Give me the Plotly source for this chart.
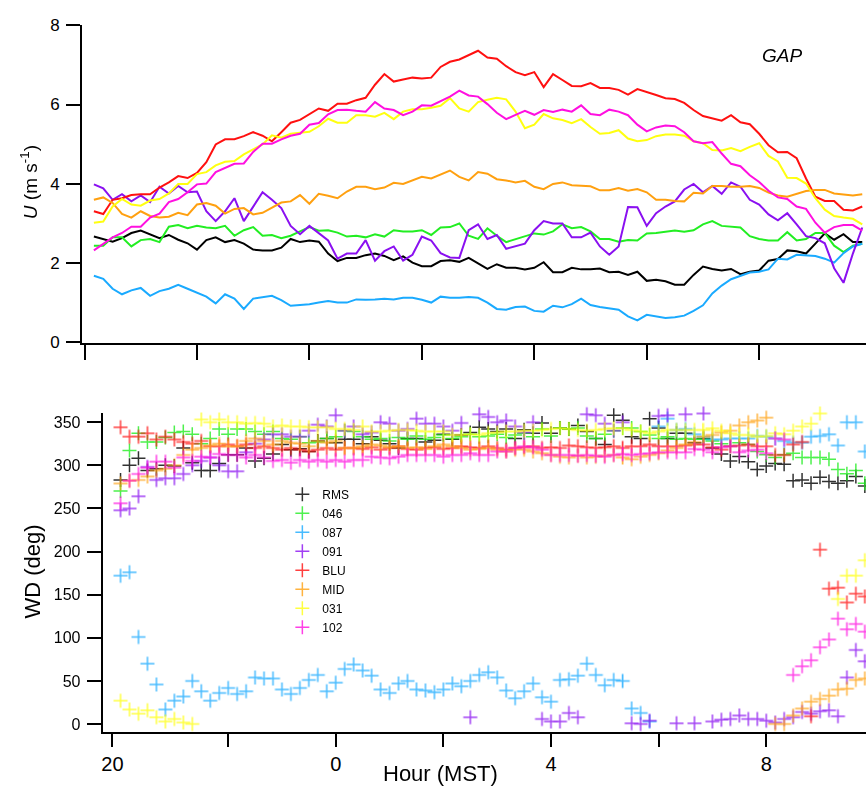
import numpy as np
import plotly.graph_objects as go

# ---------------- data ----------------
# top panel: wind speed U (m/s), 10-min samples starting 20:10 MST
top_start_min = 10          # minutes after 20:00
step_min = 10
# bottom panel: wind direction (deg), 10-min samples starting 20:00 MST
bot_start_min = 0

stations = ["RMS", "046", "087", "091", "BLU", "MID", "031", "102"]
colors = ["#000000", "#22ee22", "#1aaaff", "#8a10f0", "#ff1010", "#ffa010", "#ffff10", "#ff10e0"]

U_RMS = [2.66,2.60,2.53,2.62,2.75,2.81,2.72,2.62,2.70,2.58,2.49,2.33,2.57,2.64,2.52,2.57,2.48,2.33,2.31,2.31,
         2.38,2.60,2.52,2.56,2.53,2.23,2.04,2.12,2.12,2.19,2.23,2.17,2.06,2.16,2.00,1.91,1.91,2.04,2.06,2.02,
         2.12,1.98,1.84,1.96,1.87,1.87,1.83,1.87,2.01,1.76,1.76,1.87,1.83,1.83,1.85,1.76,1.77,1.69,1.77,1.54,
         1.57,1.53,1.44,1.44,1.69,1.90,1.84,1.80,1.84,1.71,1.77,1.80,2.05,2.09,2.31,2.29,2.23,2.48,2.74,2.58,
         2.72,2.52,2.52]
U_046 = [2.43,2.43,2.64,2.64,2.41,2.57,2.60,2.52,2.91,2.95,2.87,2.93,2.89,2.87,2.93,2.68,2.82,2.90,2.68,2.70,
         2.62,2.68,2.79,2.90,2.81,2.82,2.76,2.66,2.68,2.64,2.72,2.66,2.82,2.79,2.79,2.82,2.70,2.89,2.90,2.99,
         2.68,2.60,2.87,2.68,2.52,2.60,2.68,2.74,2.71,2.79,2.97,2.87,2.90,2.79,2.60,2.60,2.53,2.57,2.56,2.74,
         2.75,2.78,2.81,2.78,2.82,2.97,3.05,2.93,2.91,2.89,2.67,2.60,2.56,2.56,2.77,2.56,2.60,2.75,2.75,2.43,
         2.27,2.43,2.48]
U_087 = [1.67,1.59,1.34,1.20,1.30,1.36,1.16,1.28,1.34,1.44,1.34,1.24,1.14,0.97,1.20,1.09,0.83,1.09,1.13,1.16,
         1.05,0.91,0.93,0.95,0.99,1.03,0.99,0.99,1.07,1.06,1.07,1.09,1.07,1.11,1.11,1.06,0.99,1.14,1.11,1.11,
         1.13,1.11,0.99,0.83,0.81,0.88,0.89,0.78,0.76,0.91,0.87,0.95,1.09,0.93,0.88,0.84,0.81,0.64,0.54,0.68,
         0.64,0.60,0.62,0.66,0.78,0.92,1.22,1.42,1.58,1.67,1.75,1.77,1.83,2.10,2.08,2.20,2.18,2.17,2.10,2.00,
         2.24,2.41,2.48]
U_091 = [3.98,3.88,3.59,3.73,3.55,3.70,3.53,3.92,3.75,3.94,3.78,3.80,3.30,3.05,3.30,3.63,3.05,3.42,3.78,3.59,
         3.38,2.93,2.72,2.93,2.74,2.56,2.10,2.23,2.23,2.57,2.05,2.29,2.41,2.05,2.20,2.66,2.56,2.24,2.13,2.12,
         2.82,2.97,2.60,2.70,2.35,2.41,2.48,2.82,3.05,2.99,2.99,2.64,2.64,2.76,2.41,2.20,2.41,3.41,3.40,2.93,
         3.25,3.42,3.55,3.85,3.99,3.78,3.94,3.74,4.03,3.92,3.59,3.47,3.22,3.07,3.25,2.97,2.67,2.62,2.49,1.86,
         1.49,2.23,2.89]
U_BLU = [3.30,3.23,3.59,3.63,3.71,3.73,3.73,3.90,4.03,4.19,4.14,4.27,4.54,4.99,5.12,5.12,5.20,5.30,5.21,5.07,
         5.30,5.54,5.61,5.76,5.90,5.84,6.02,6.02,6.11,6.17,6.50,6.77,6.58,6.63,6.68,6.66,6.68,6.95,7.08,7.14,
         7.24,7.36,7.19,7.16,6.97,6.82,6.74,6.82,6.44,6.77,6.62,6.47,6.46,6.54,6.42,6.42,6.37,6.25,6.39,6.32,
         6.24,6.16,6.14,6.04,5.86,5.71,5.64,5.59,5.73,5.55,5.50,5.26,4.97,4.79,4.80,4.64,4.13,3.67,3.56,3.56,
         3.34,3.32,3.42]
U_MID = [3.59,3.65,3.51,3.23,3.14,3.30,3.18,3.14,3.16,3.26,3.20,3.47,3.51,3.44,3.24,3.36,3.38,3.22,3.26,3.40,
         3.52,3.55,3.71,3.49,3.74,3.69,3.63,3.80,3.92,3.92,3.86,3.90,4.02,3.99,4.07,4.17,4.13,4.22,4.33,4.17,
         4.08,4.29,4.25,4.11,4.08,4.03,4.07,3.92,3.86,3.99,4.03,3.96,3.95,3.93,3.83,3.83,3.89,3.82,3.86,3.78,
         3.59,3.59,3.56,3.55,3.77,3.75,3.94,3.94,3.92,3.92,3.94,3.89,3.77,3.70,3.67,3.75,3.81,3.84,3.84,3.75,
         3.73,3.70,3.73]
U_031 = [3.01,3.04,3.42,3.61,3.47,3.44,3.57,3.61,3.75,3.99,3.99,4.24,4.29,4.46,4.55,4.57,4.74,4.87,4.99,5.22,
         5.16,5.26,5.28,5.31,5.45,5.64,5.54,5.54,5.73,5.73,5.69,5.79,5.63,5.82,5.88,5.88,5.92,5.97,6.16,5.90,
         5.82,6.06,6.12,6.17,6.13,5.82,5.40,5.49,5.76,5.65,5.61,5.53,5.63,5.43,5.26,5.28,5.35,5.14,5.07,5.10,
         5.20,5.24,5.24,5.21,5.07,5.02,4.85,4.84,4.90,4.82,4.93,5.02,4.70,4.56,4.15,4.14,4.00,3.63,3.34,3.18,
         3.14,3.11,2.97]
U_102 = [2.31,2.48,2.64,2.75,2.91,2.91,3.14,3.24,3.53,3.61,3.78,3.98,4.00,4.29,4.40,4.50,4.51,4.80,5.01,5.01,
         5.12,5.21,5.26,5.49,5.53,5.75,5.86,5.87,5.84,5.82,6.06,5.90,5.86,5.73,5.82,5.98,5.97,6.09,6.20,6.35,
         6.23,6.20,6.01,5.79,5.63,5.74,5.84,5.74,5.86,5.81,5.87,5.82,5.98,5.76,5.73,5.87,5.82,5.73,5.49,5.32,
         5.42,5.47,5.45,5.30,5.07,5.02,5.05,4.76,4.50,4.44,4.21,4.04,3.82,3.65,3.61,3.42,3.36,3.01,2.76,2.90,
         2.95,2.95,2.81]

WD_RMS = [283,300,308,294,296,300,299,320,303,294, 294,302,312,312,320,305,308,313,324,318,
          319,316,328,331,326,330,330,325,333,329, 325,320,331,331,327,329,336,330,335,338,
          344,342,339,342,331,341,337,349,337,343, 342,346,339,331,324,358,352,333,331,354,
          343,331,337,337,326,331,320,313,305,310, 304,295,299,302,301,282,283,279,286,281,
          279,282,287,276]
WD_046 = [270,317,337,327,327,332,338,339,336,325, 331,342,336,342,342,339,336,339,331,330,
          333,326,327,331,333,340,339,333,330,331, 328,332,330,334,330,332,335,331,333,336,
          333,334,336,332,335,337,333,342,334,343, 342,343,334,331,336,340,343,343,339,335,
          331,333,330,331,330,330,328,325,322,326, 324,316,312,309,312,314,309,309,309,307,
          295,290,294,279]
WD_087 = [172,176,101,70,46,17,27,32,50,38, 27,36,42,35,38,54,53,53,40,35,
          42,51,57,38,48,64,69,62,56,40, 36,47,50,40,39,37,40,47,44,50,
          57,60,54,39,30,38,47,31,26,51, 52,56,70,57,45,51,50,18,13,3,
          345,354,341,342,336,333,330,330,331,331, 331,334,333,331,328,326,326,333,334,336,
          323,350,350,316]
WD_091 = [248,250,264,298,283,285,285,290,300,305, 309,300,293,293,315,325,330,336,336,333,
          333,340,347,345,358,340,345,336,338,350, 348,340,342,354,348,348,345,340,349,8,
          359,356,350,352,345,338,350,6,3,3, 13,8,359,358,348,340,350,1,0,4,
          357,358,1,359,1,360,3,5,6,10, 6,6,4,2,6,8,14,12,15,16,
          9,54,86,73]
WD_BLU = [344,333,333,337,330,333,330,327,325,328, 322,322,324,322,324,320,322,320,318,320,
          318,316,318,320,318,320,320,319,321,318, 320,322,319,318,320,321,319,320,322,321,
          320,322,320,318,320,321,322,320,321,320, 323,322,321,320,321,322,320,322,322,324,
          322,322,322,323,324,324,321,318,322,323, 324,322,322,312,312,324,327,9,202,157,
          158,141,151,148]
WD_MID = [279,282,283,287,294,296,300,312,318,320, 323,325,322,322,328,331,328,324,328,326,
          325,322,328,326,328,320,320,322,324,323, 321,322,320,321,319,322,324,322,320,318,
          319,320,318,316,318,318,316,314,312,310, 309,311,309,310,311,312,309,307,310,312,
          314,317,320,324,327,333,335,338,340,346, 350,352,355,0,0,10,18,26,29,33,
          40,41,51,53]
WD_031 = [27,17,12,16,8,3,6,2,0,353, 350,353,350,350,348,349,348,345,346,345,
          345,344,344,344,342,342,341,345,339,339, 340,341,341,340,339,339,339,335,335,336,
          335,337,338,339,339,340,340,341,342,343, 342,341,340,341,342,343,343,341,339,337,
          339,341,341,341,341,341,343,340,337,335, 335,333,334,337,336,340,345,348,360,361,
          145,172,172,190]
WD_102 = [256,282,290,297,304,304,297,309,305,310, 309,313,312,312,309,312,309,305,306,303,
          306,304,306,304,306,304,306,306,310,309, 308,310,312,312,312,312,310,312,312,314,
          312,312,316,316,320,322,321,318,312,312, 312,311,312,311,310,312,313,312,313,314,
          315,315,315,315,319,318,315,321,322,315, 317,318,314,331,330,57,67,74,89,98,
          122,110,116,107]

U_series = [U_RMS, U_046, U_087, U_091, U_BLU, U_MID, U_031, U_102]
WD_series = [WD_RMS, WD_046, WD_087, WD_091, WD_BLU, WD_MID, WD_031, WD_102]

# hour axis (hours since 20:00 MST) and its tick labels
tick_hours_top = [0, 2, 4, 6, 8, 10, 12]
tick_hours_bot = [-0.15, 4, 8, 12]
tick_text_bot = ["20", "0", "4", "8"]
minor_hours_bot = [2, 6, 10]
U_ticks = [0, 2, 4, 6, 8]
WD_ticks = [0, 50, 100, 150, 200, 250, 300, 350]

t_top = (top_start_min + step_min * np.arange(len(U_RMS))) / 60.0
t_bot = (bot_start_min + step_min * np.arange(len(WD_RMS))) / 60.0

FONT = "Liberation Sans, Arial, Helvetica, sans-serif"
W, H = 866, 794

fig = go.Figure()
for name, col, u in zip(stations, colors, U_series):
    fig.add_trace(go.Scatter(x=t_top, y=u, mode="lines", line=dict(color=col, width=2),
                             showlegend=False, xaxis="x", yaxis="y", hoverinfo="skip"))
for name, col, wd in zip(stations, colors, WD_series):
    fig.add_trace(go.Scatter(x=t_bot, y=wd, mode="markers", name=name,
                             marker=dict(symbol="cross-thin", size=10, color=col,
                                         line=dict(color=col, width=1.5)),
                             opacity=0.8, cliponaxis=False,
                             xaxis="x2", yaxis="y2"))

axis_common = dict(showgrid=False, zeroline=False, showline=True, linecolor="black",
                   linewidth=1.5, ticks="outside", tickcolor="black", tickwidth=1.5)

fig.update_layout(
    width=W, height=H,
    margin=dict(l=0, r=0, t=0, b=0),
    paper_bgcolor="white", plot_bgcolor="white",
    font=dict(family=FONT, color="black"),
    xaxis=dict(domain=[80 / W, 1.0], range=[-0.048, 13.9], tickvals=tick_hours_top,
               showticklabels=False, ticklen=15, anchor="y", **axis_common),
    yaxis=dict(domain=[1 - 341.7 / H, 1 - 16.8 / H], range=[-0.042, 8], tickvals=U_ticks,
               ticklen=14, tickfont=dict(size=17), ticklabelstandoff=3, anchor="x",
               **axis_common),
    xaxis2=dict(domain=[101.7 / W, 1.0], range=[-0.317, 13.855], tickvals=tick_hours_bot,
                ticktext=tick_text_bot, ticklen=13, tickfont=dict(size=20), anchor="y2",
                minor=dict(tickvals=minor_hours_bot, ticklen=13, tickwidth=1.5,
                           tickcolor="black", ticks="outside", showgrid=False),
                **axis_common),
    yaxis2=dict(domain=[1 - 739 / H, 1 - 413.3 / H], range=[-9.4, 360], tickvals=WD_ticks,
                ticklen=15, tickfont=dict(size=16), ticklabelstandoff=3, anchor="x2",
                **axis_common),
    legend=dict(x=281 / W, y=1 - 481 / H, xanchor="left", yanchor="top",
                bgcolor="rgba(0,0,0,0)", font=dict(size=12), tracegroupgap=0),
    annotations=[
        dict(text="<i>U</i> (m s<sup>-1</sup>)", textangle=-90, x=27 / W, y=1 - 177 / H,
             xref="paper", yref="paper", showarrow=False, font=dict(size=19),
             xanchor="center", yanchor="middle"),
        dict(text="WD (deg)", textangle=-90, x=31 / W, y=1 - 575 / H,
             xref="paper", yref="paper", showarrow=False, font=dict(size=22),
             xanchor="center", yanchor="middle"),
        dict(text="Hour (MST)", x=440 / W, y=1 - 781 / H,
             xref="paper", yref="paper", showarrow=False, font=dict(size=22),
             xanchor="center", yanchor="middle"),
        dict(text="<i>GAP</i>", x=782 / W, y=1 - 48 / H,
             xref="paper", yref="paper", showarrow=False, font=dict(size=19),
             xanchor="center", yanchor="middle"),
    ],
)

fig.write_html("out.html", config={"displayModeBar": False},
               post_script="document.body.style.margin='0';document.body.style.overflow='hidden';")
